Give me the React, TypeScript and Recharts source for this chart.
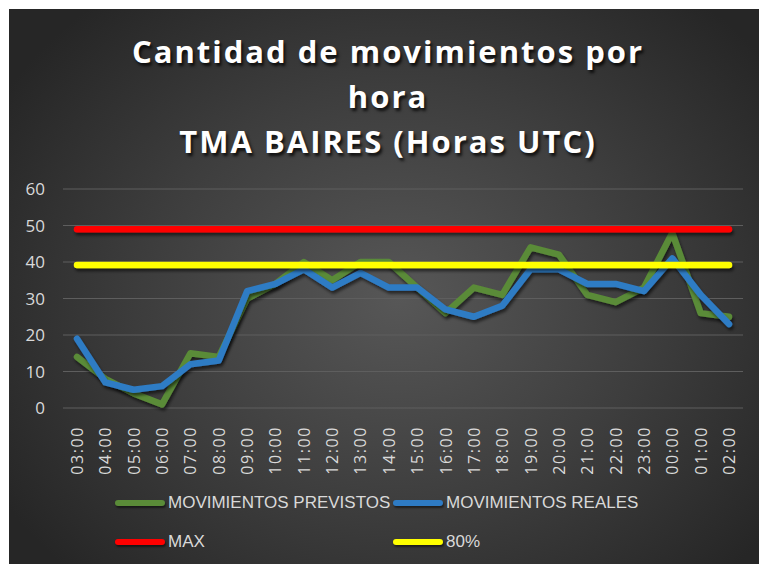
import { LineChart, Line, XAxis, YAxis, CartesianGrid, Legend } from 'recharts'

const hours = [
  '03:00', '04:00', '05:00', '06:00', '07:00', '08:00', '09:00', '10:00',
  '11:00', '12:00', '13:00', '14:00', '15:00', '16:00', '17:00', '18:00',
  '19:00', '20:00', '21:00', '22:00', '23:00', '00:00', '01:00', '02:00',
]
const previstos = [14, 8, 4, 1, 15, 14, 30, 34, 40, 35, 40, 40, 33, 26, 33, 31, 44, 42, 31, 29, 33, 48, 26, 25]
const reales = [19, 7, 5, 6, 12, 13, 32, 34, 38, 33, 37, 33, 33, 27, 25, 28, 38, 38, 34, 34, 32, 41, 31, 23]
const maxMovimientos = 49
const ochentaPct = 39.2
const yTicks = [0, 10, 20, 30, 40, 50, 60]

const data = hours.map((h, i) => ({
  hora: h,
  previstos: previstos[i],
  reales: reales[i],
  max: maxMovimientos,
  p80: ochentaPct,
}))

const series = [
  { key: 'previstos', name: 'MOVIMIENTOS PREVISTOS', color: '#5a8b38' },
  { key: 'reales', name: 'MOVIMIENTOS REALES', color: '#2e7bc4' },
  { key: 'max', name: 'MAX', color: '#ff0000' },
  { key: 'p80', name: '80%', color: '#ffff00' },
]

const labelColor = '#d9d9d9'

function HourTick({ x, y, payload }: any) {
  return (
    <text
      x={x}
      y={y + 10}
      transform={`rotate(-90, ${x}, ${y + 10})`}
      textAnchor="end"
      dominantBaseline="central"
      fill={labelColor}
      fontSize={16}
      letterSpacing={1.6}
      fontFamily="'Open Sans', sans-serif"
    >
      {payload.value}
    </text>
  )
}

function LegendGrid() {
  const cell = (s: (typeof series)[number]) => (
    <div key={s.key} style={{ display: 'flex', alignItems: 'center', height: 39 }}>
      <span
        style={{
          display: 'inline-block',
          flexShrink: 0,
          width: 50,
          height: 6,
          borderRadius: 3,
          background: s.color,
          marginRight: 3,
          boxShadow: '1px 2px 2px rgba(0,0,0,0.5)',
        }}
      />
      <span
        style={{
          color: labelColor,
          fontSize: 17,
          fontFamily: "'Liberation Sans', Arial, sans-serif",
          whiteSpace: 'nowrap',
        }}
      >
        {s.name}
      </span>
    </div>
  )
  return (
    <div style={{ display: 'grid', gridTemplateColumns: '278px 300px' }}>
      {series.map(cell)}
    </div>
  )
}

export default function App() {
  return (
    <>
      <style>{`body{margin:0;overflow:hidden}`}</style>
      <div
        style={{
          position: 'absolute',
          left: 9,
          top: 9,
          width: 750,
          height: 555,
          overflow: 'hidden',
          background:
            'radial-gradient(ellipse 62% 70% at 52% 52%, #575757 0%, #3d3d3d 55%, #262626 100%)',
        }}
      >
        <div
          style={{
            position: 'absolute',
            left: 4,
            top: 20,
            width: 750,
            textAlign: 'center',
            color: '#ffffff',
            fontFamily: "'Open Sans', sans-serif",
            fontWeight: 700,
            fontSize: 31,
            lineHeight: '45px',
            letterSpacing: 2,
            textShadow: '2px 3px 3px rgba(0,0,0,0.75)',
          }}
        >
          Cantidad de movimientos por
          <br />
          hora
          <br />
          TMA BAIRES (Horas UTC)
        </div>
        <LineChart
          width={750}
          height={555}
          data={data}
          margin={{ top: 180, right: 16, left: 0, bottom: 96 }}
          style={{ position: 'absolute', left: 0, top: 0 }}
        >
          <defs>
            <filter id="lineShadow" filterUnits="userSpaceOnUse" x="0" y="0" width="750" height="555">
              <feDropShadow dx="1.5" dy="3" stdDeviation="1.5" floodColor="#000" floodOpacity="0.55" />
            </filter>
          </defs>
          <CartesianGrid vertical={false} stroke="#5e5e5e" strokeWidth={1} />
          <XAxis
            dataKey="hora"
            interval={0}
            height={60}
            padding={{ left: 14, right: 14 }}
            axisLine={false}
            tickLine={false}
            tick={<HourTick />}
          />
          <YAxis
            domain={[0, 60]}
            ticks={yTicks}
            width={54}
            axisLine={false}
            tickLine={false}
            tickSize={0}
            tickMargin={18}
            tick={{ fill: labelColor, fontSize: 17, fontFamily: "'Open Sans', sans-serif" }}
          />
          <Legend
            layout="horizontal"
            align="center"
            verticalAlign="middle"
            wrapperStyle={{ position: 'absolute', left: 106, top: 474, width: 600 }}
            content={<LegendGrid />}
          />
          {series.map((s) => (
            <Line
              key={s.key}
              dataKey={s.key}
              name={s.name}
              type="linear"
              stroke={s.color}
              strokeWidth={6.5}
              strokeLinecap="round"
              strokeLinejoin="round"
              dot={false}
              activeDot={false}
              filter="url(#lineShadow)"
              isAnimationActive={false}
            />
          ))}
        </LineChart>
      </div>
    </>
  )
}
